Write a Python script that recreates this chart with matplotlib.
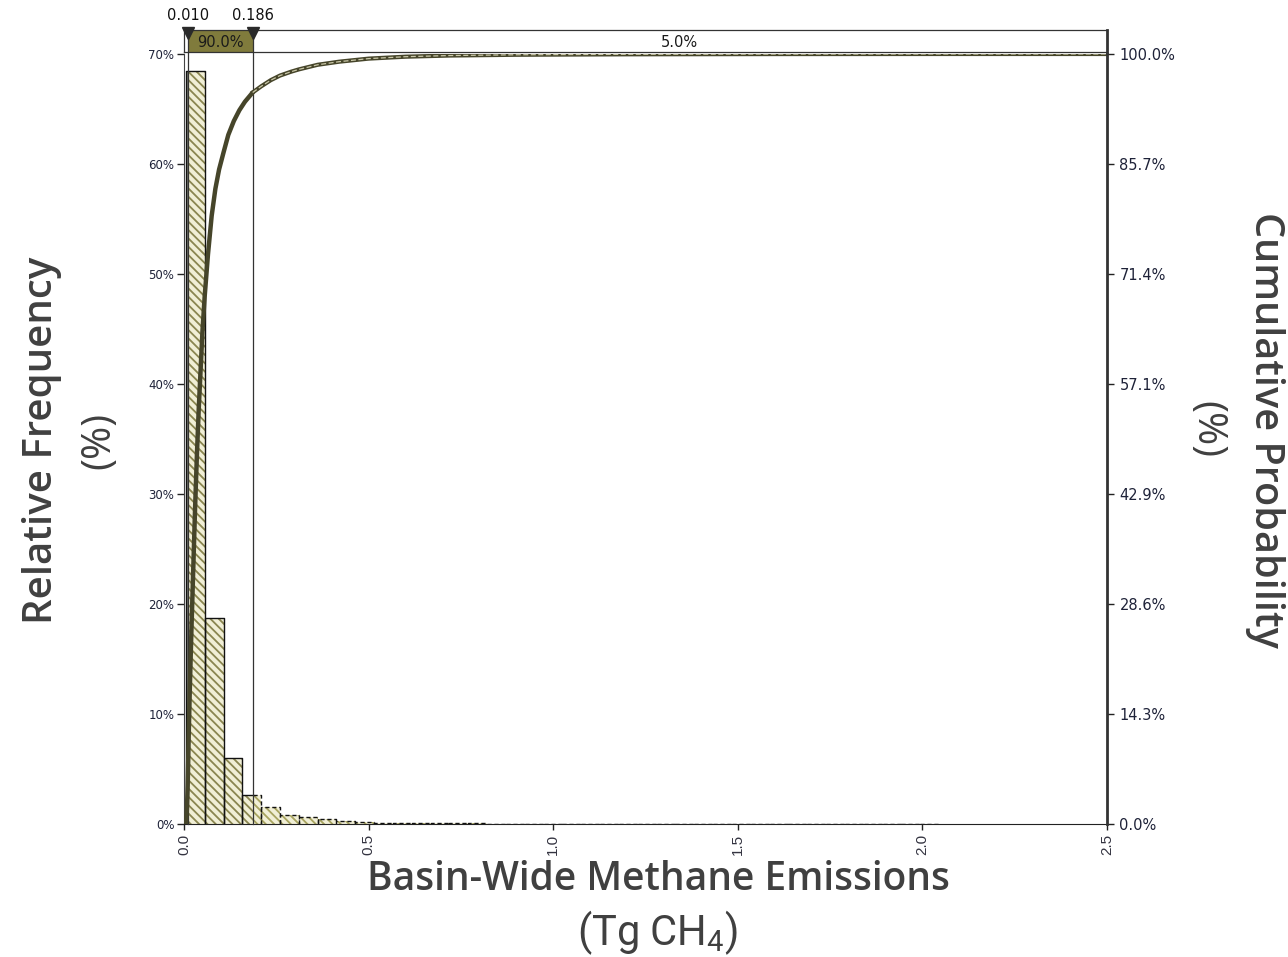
import numpy as np
import matplotlib
matplotlib.use("Agg")
import matplotlib.pyplot as plt
from matplotlib.patches import Rectangle
from matplotlib.transforms import blended_transform_factory

# ---- data -------------------------------------------------------------
bin_start = 0.005
bin_width = 0.051
rel_freq = [68.5, 18.7, 6.0, 2.6, 1.55, 0.85, 0.62, 0.42, 0.30, 0.21,
            0.13, 0.11, 0.09, 0.07, 0.06, 0.05, 0.04, 0.04, 0.03, 0.03,
            0.03, 0.02, 0.02, 0.02, 0.02, 0.02, 0.02, 0.02, 0.02, 0.02,
            0.02, 0.02, 0.02, 0.02, 0.02, 0.02, 0.02, 0.02, 0.02, 0.02]

cdf_x = [0.005, 0.008, 0.010, 0.013, 0.016, 0.020, 0.025, 0.030, 0.035,
         0.040, 0.045, 0.050, 0.056, 0.065, 0.075, 0.085, 0.095, 0.107,
         0.120, 0.135, 0.150, 0.165, 0.186, 0.209, 0.235, 0.260, 0.290,
         0.311, 0.362, 0.420, 0.500, 0.600, 0.720, 0.900, 1.200, 1.600,
         2.050, 2.500]
cdf_pct = [0.0, 2.0, 5.0, 12.0, 18.0, 25.0, 33.0, 41.0, 48.0,
           54.0, 59.0, 64.0, 68.5, 74.0, 79.0, 82.5, 85.0, 87.2,
           89.5, 91.3, 92.7, 93.8, 95.0, 95.8, 96.6, 97.2, 97.7,
           98.0, 98.6, 99.0, 99.4, 99.65, 99.8, 99.9, 99.96, 99.99,
           100.0, 100.0]

lower_cut, upper_cut = 0.010, 0.186
band_labels = ["90.0%", "5.0%"]

left_ticks = [0, 10, 20, 30, 40, 50, 60, 70]
right_ticks = np.linspace(0, 100, 8)
right_labels = ["0.0%", "14.3%", "28.6%", "42.9%", "57.1%", "71.4%", "85.7%", "100.0%"]
x_ticks = [0.0, 0.5, 1.0, 1.5, 2.0, 2.5]

# ---- style ------------------------------------------------------------
OLIVE = "#807b3c"
HATCH = "#8a8650"
FILL = "#f1efd6"
CURVE = "#46452a"
LABEL = "#404040"
TICK = "#1e2238"

plt.rcParams["hatch.linewidth"] = 1.3
plt.rcParams["mathtext.fontset"] = "custom"
plt.rcParams["mathtext.rm"] = "Roboto"
plt.rcParams["mathtext.it"] = "Roboto"

W, H = 1288, 957
fig = plt.figure(figsize=(W / 100, H / 100), dpi=100)

def fx(px):
    return px / W

def fy(py):
    return 1 - py / H

x0, x1, y0, y1 = 184, 1107, 824, 54
ax = fig.add_axes([fx(x0), fy(y0), fx(x1) - fx(x0), fy(y1) - fy(y0)])
ax.set_xlim(0, 2.5)
ax.set_ylim(0, 70)

# histogram bars
edges = bin_start + bin_width * np.arange(len(rel_freq) + 1)
for i, h in enumerate(rel_freq):
    a, b = edges[i], edges[i + 1]
    pieces = []
    if a < lower_cut < b:
        pieces.append((a, lower_cut, "tail_low"))
        pieces.append((lower_cut, b, "mid"))
    elif a < upper_cut < b:
        pieces.append((a, upper_cut, "mid"))
        pieces.append((upper_cut, b, "tail_high"))
    elif b <= upper_cut:
        pieces.append((a, b, "mid"))
    else:
        pieces.append((a, b, "tail_high"))
    for pa, pb, kind in pieces:
        if kind == "tail_low":
            ax.add_patch(Rectangle((pa, 0), pb - pa, h, facecolor="#7a7a70",
                                   edgecolor="none", lw=0))
            continue
        hc = HATCH if kind == "mid" else "#a8a460"
        ax.add_patch(Rectangle((pa, 0), pb - pa, h, facecolor=FILL,
                               edgecolor=hc, hatch="\\\\\\\\", lw=0))
    # outlines
    if a < upper_cut < b:
        ax.plot([a, a, upper_cut], [0, h, h], color="#111111", lw=1.0)
        ax.plot([upper_cut, b, b], [h, h, 0], color="#111111", lw=1.0,
                ls=(0, (3, 2)))
    else:
        ls = "-" if a < upper_cut else (0, (3, 2))
        ax.plot([a, a, b, b], [0, h, h, 0], color="#111111", lw=1.0, ls=ls)

ax.set_yticks(left_ticks)
ax.set_yticklabels([f"{v}%" for v in left_ticks], fontsize=8.5,
                   family="DejaVu Sans", color=TICK)
ax.set_xticks(x_ticks)
ax.set_xticklabels([f"{v:.1f}" for v in x_ticks], rotation=90, fontsize=11,
                   family="Liberation Sans", color="#333340")
ax.tick_params(axis="y", direction="out", length=5, width=1, color="#222222", pad=2)
ax.tick_params(axis="x", direction="out", length=4, width=1, color="#222222", pad=3)
ax.spines["top"].set_visible(False)
ax.spines["left"].set_color("#444444")
ax.spines["bottom"].set_color("#222222")
ax.spines["right"].set_visible(False)

# cumulative curve on the right-hand axis
ax2 = ax.twinx()
ax2.set_ylim(0, 100)
cx = np.array(cdf_x)
cy = np.array(cdf_pct)
inner = cx <= upper_cut
outer = cx >= upper_cut
ax2.plot(cx[inner], cy[inner], color=CURVE, lw=3.2, solid_capstyle="round")
ax2.plot(cx[outer], cy[outer], color=CURVE, lw=3.0)
ax2.plot(cx[outer], cy[outer], color="#c9c7a8", lw=0.9, ls=(0, (4, 2)))
ax2.set_yticks(right_ticks)
ax2.set_yticklabels(right_labels, fontsize=10.5, family="DejaVu Sans", color=TICK)
ax2.tick_params(axis="y", direction="out", length=5, width=1, color="#222222", pad=4)
for s in ["top", "left", "bottom"]:
    ax2.spines[s].set_visible(False)
ax2.spines["right"].set_linewidth(2.0)
ax2.spines["right"].set_color("#333333")

# delimiter band above the plot (drawn beneath the main axes' overlays)
bx = fig.add_axes([fx(x0), fy(52), fx(x1) - fx(x0), fy(30) - fy(52)])
bx.set_zorder(-1)
bx.set_xlim(0, 2.5)
bx.set_ylim(0, 1)
bx.set_xticks([])
bx.set_yticks([])
for s in bx.spines.values():
    s.set_linewidth(0.9)
    s.set_color("#333333")
bx.spines["right"].set_linewidth(2.0)
bx.axvspan(lower_cut, upper_cut, color=OLIVE, lw=0)
bx.text((lower_cut + upper_cut) / 2, 0.45, band_labels[0], ha="center",
        va="center", fontsize=10.5, family="DejaVu Sans", color="#1a1a1a")
bx.text((upper_cut + 2.5) / 2, 0.45, band_labels[1], ha="center",
        va="center", fontsize=10.5, family="DejaVu Sans", color="#1a1a1a")

# delimiter lines, markers and values
tr = blended_transform_factory(ax.transData, ax.transAxes)
top_frac = (y0 - 30) / (y0 - y1)
for v in (lower_cut, upper_cut):
    ax.plot([v, v], [0, top_frac], transform=tr, color="#333333", lw=0.9,
            clip_on=False, zorder=5)
    ax.plot([v], [top_frac - 0.004], transform=tr, marker="v", ms=8,
            color="#2a2a2a", clip_on=False, zorder=6)
    ax.text(v, (y0 - 15) / (y0 - y1), f"{v:.3f}", transform=tr, ha="center",
            va="center", fontsize=10.5, family="DejaVu Sans", color="#111111")

# axis titles
fig.text(fx(42), fy(440), "Relative Frequency", rotation=90, ha="center",
         va="center", fontsize=29, family="Open Sans", weight="semibold",
         color=LABEL)
fig.text(fx(99), fy(440), "(%)", rotation=90, ha="center", va="center",
         fontsize=29, family="Open Sans", color=LABEL)
fig.text(fx(1265), fy(430), "Cumulative Probability", rotation=-90,
         ha="center", va="center", fontsize=28.5, family="Open Sans",
         weight="semibold", color=LABEL)
fig.text(fx(1207), fy(430), "(%)", rotation=-90, ha="center", va="center",
         fontsize=29, family="Open Sans", color=LABEL)
fig.text(fx(658), fy(880), "Basin-Wide Methane Emissions", ha="center",
         va="center", fontsize=28, family="Open Sans", weight="semibold",
         color=LABEL)
fig.text(fx(658), fy(933), "(Tg CH$_4$)", ha="center", va="center",
         fontsize=30, family="Roboto", color=LABEL)

fig.savefig("out.png", dpi=100)
